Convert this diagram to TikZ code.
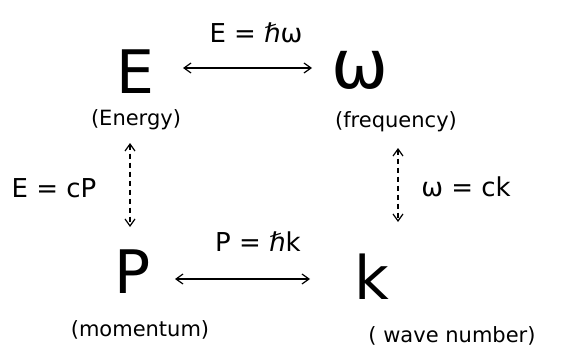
\documentclass[tikz,border=0pt]{standalone}
\usepackage{fontspec}
\setmainfont{DejaVu Sans}
\usetikzlibrary{arrows.meta}
\begin{document}
\begin{tikzpicture}[x=1pt,y=-1pt,
  big/.style={inner sep=0pt, font=\fontsize{60}{60}\selectfont},
  lab/.style={inner sep=1pt, font=\fontsize{21}{21}\selectfont},
  rel/.style={inner sep=1pt, font=\fontsize{26}{26}\selectfont},
  link/.style={line width=1.2pt, {Straight Barb[length=7pt,width=10pt]}-{Straight Barb[length=7pt,width=10pt]}},
  dlink/.style={link, dashed, dash pattern=on 5pt off 4pt}]
\useasboundingbox (0,0) rectangle (567,350);
\node[big] (E) at (135,72) {E};
\node[big, font=\fontsize{68}{68}\selectfont] (w) at (360,70) {ω};
\node[big] (P) at (133,272) {P};
\node[big] (k) at (372,277) {k};
\node[lab] (En) at (136,120) {(Energy)};
\node[lab] (fr) at (396,122) {(frequency)};
\node[lab] (mo) at (140,330) {(momentum)};
\node[lab] (wn) at (452,336) {( wave number)};
\node[rel] (r1) at (256,33) {E = ℏω};
\node[rel] (r2) at (258,242) {P = ℏk};
\node[rel] (r3) at (54,188) {E = cP};
\node[rel] (r4) at (466,187) {ω = ck};
\coordinate (a1) at (183,68); \coordinate (b1) at (312,68);
\coordinate (a2) at (175,279); \coordinate (b2) at (310,279);
\coordinate (a3) at (130,143); \coordinate (b3) at (130,227);
\coordinate (a4) at (398,148); \coordinate (b4) at (398,222);
\draw[link] (a1) -- (b1);
\draw[link] (a2) -- (b2);
\draw[dlink] (a3) -- (b3);
\draw[dlink] (a4) -- (b4);
\end{tikzpicture}
\end{document}
